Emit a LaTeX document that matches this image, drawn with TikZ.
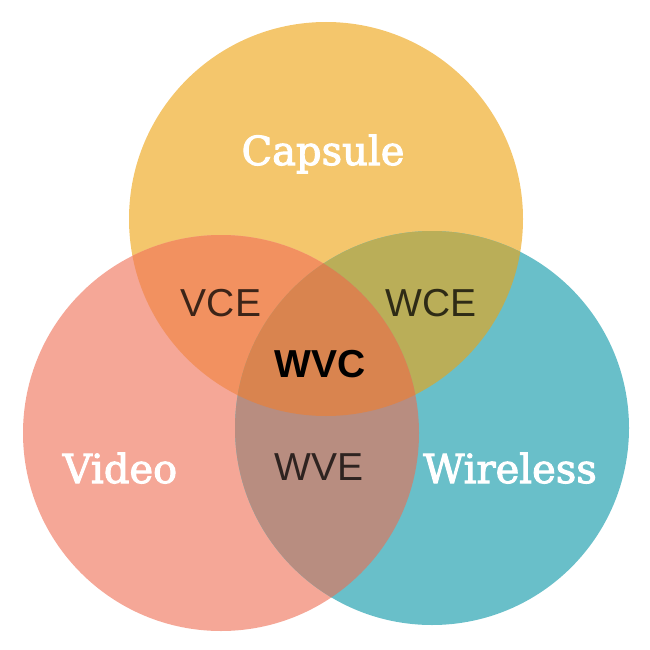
\documentclass[tikz,border=0pt]{standalone}
\usepackage{fontspec}
\setmainfont{Liberation Sans}
\newfontfamily\slabfont[FakeBold=2.5]{DejaVu Serif}
\definecolor{capcol}{HTML}{F4C66C}
\definecolor{vidcol}{HTML}{F5A797}
\definecolor{wircol}{HTML}{69BFC9}
\definecolor{vcecol}{HTML}{F29160}
\definecolor{wcecol}{HTML}{BAAE58}
\definecolor{wvecol}{HTML}{B88D80}
\definecolor{wvccol}{HTML}{D9844F}
\tikzset{
  setname/.style={font=\slabfont\fontsize{40}{40}\selectfont, text=white, anchor=base, inner sep=0pt},
  pairname/.style={font=\fontsize{39}{39}\selectfont, text=black, text opacity=0.75, anchor=base, inner sep=0pt},
  corename/.style={font=\bfseries\fontsize{39}{39}\selectfont, text=black, anchor=base, inner sep=0pt},
}
\newcommand{\capdisk}{(326,219) circle (197)}
\newcommand{\viddisk}{(221,433) circle (198)}
\newcommand{\wirdisk}{(432,428) circle (197)}
\begin{document}
\begin{tikzpicture}[x=1pt,y=-1pt]
\useasboundingbox (0,0) rectangle (650,650);
% the three sets
\fill[capcol] \capdisk;
\fill[vidcol] \viddisk;
\fill[wircol] \wirdisk;
% pairwise overlaps
\begin{scope}\clip \capdisk; \fill[vcecol] \viddisk; \end{scope}
\begin{scope}\clip \capdisk; \fill[wcecol] \wirdisk; \end{scope}
\begin{scope}\clip \viddisk; \fill[wvecol] \wirdisk; \end{scope}
% common part of all three
\begin{scope}\clip \capdisk; \clip \viddisk; \fill[wvccol] \wirdisk; \end{scope}
% labels
\node[setname] (capsule) at (323,165) {Capsule};
\node[setname] (video) at (120,483) {Video};
\node[setname] (wireless) at (510,483) {Wireless};
\node[pairname] (vce) at (221,316) {VCE};
\node[pairname] (wce) at (431,316) {WCE};
\node[pairname] (wve) at (319,480) {WVE};
\node[corename] (wvc) at (320,377) {WVC};
\end{tikzpicture}
\end{document}
